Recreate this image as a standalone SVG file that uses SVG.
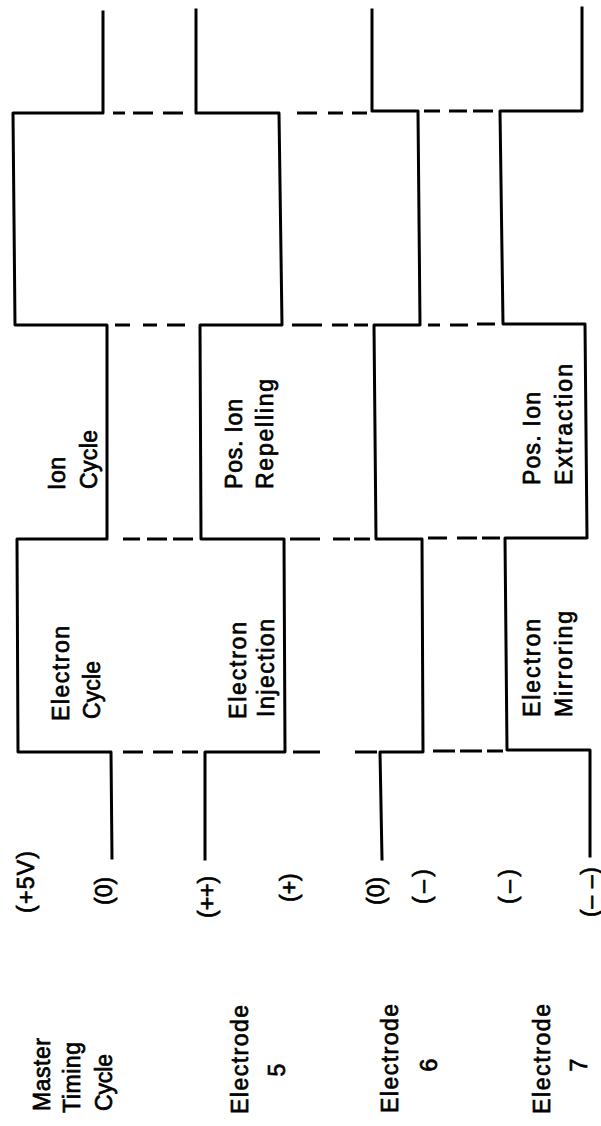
<svg xmlns="http://www.w3.org/2000/svg" width="601" height="1126" viewBox="0 0 601 1126">
<style>
.w{fill:none;stroke:#000;stroke-width:3;stroke-linejoin:round;stroke-linecap:square}
.d{fill:none;stroke:#000;stroke-width:3.2;stroke-linecap:butt}
text{font-family:"Liberation Sans",Arial,Helvetica,sans-serif;font-size:23px;fill:#000;stroke:#000;stroke-width:0.7}
.m{text-anchor:middle}
</style>
<rect width="601" height="1126" fill="#fff"/>
<g id="connectors">
<path class="d" d="M113,113H125M133,113H153M163,113H183M297,113H317M328,113H343M352,113H367M424,111H440M449,111H467M473,111H493"/>
<path class="d" d="M115,325H130M143,325H157M167,325H185M292,325H322M332,325H348M354,325H368M428,325H440M450,325H468M477,324H495"/>
<path class="d" d="M123,539H140M147,539H167M173,539H193M290,539H320M333,539H350M354,539H370M428,538H447M457,538H477M482,538H500"/>
<path class="d" d="M123,752H143M153,752H173M182,752H198M293,752H320M355,752H377M433,751H455M460,751H482M487,751H503"/>
</g>
<g id="master">
<polyline class="w" points="103,12 103,113 13,113 15,325 107,325 107,539 17,539 18,752 111,752 112,858"/>
<text transform="translate(50,1111) rotate(-90)" textLength="73">Master</text>
<text transform="translate(80,1113) rotate(-90)" textLength="71">Timing</text>
<text transform="translate(112,1111) rotate(-90)" textLength="57">Cycle</text>
<text transform="translate(34,913) rotate(-90)" textLength="62">(+5V)</text>
<text transform="translate(112,905) rotate(-90)">(0)</text>
</g>
<g id="electrode5">
<polyline class="w" points="196,10 196,113 279,113 282,325 200,325 201,539 284,539 285,752 205,752 205,859"/>
<text transform="translate(248,1114) rotate(-90)" textLength="109">Electrode</text>
<text class="m" transform="translate(285,1070) rotate(-90)">5</text>
<text transform="translate(215,918) rotate(-90)">(++)</text>
<text transform="translate(297,902) rotate(-90)">(+)</text>
</g>
<g id="electrode6">
<polyline class="w" points="372,10 372,111 418,111 420,325 374,325 376,539 422,539 423,752 380,752 382,859"/>
<text transform="translate(398,1113) rotate(-90)" textLength="109">Electrode</text>
<text class="m" transform="translate(437,1065) rotate(-90)">6</text>
<text transform="translate(384,905) rotate(-90)">(0)</text>
<text transform="translate(430,904) rotate(-90)" textLength="35">(–)</text>
</g>
<g id="electrode7">
<polyline class="w" points="582,8 582,111 500,111 503,324 585,324 587,538 505,538 507,750 590,750 590,856"/>
<text transform="translate(550,1114) rotate(-90)" textLength="110">Electrode</text>
<text class="m" transform="translate(587,1065) rotate(-90)">7</text>
<text transform="translate(516,904) rotate(-90)" textLength="35">(–)</text>
<text transform="translate(598,917) rotate(-90)" textLength="50">(– –)</text>
</g>
<g id="ion-cycle">
<text transform="translate(65,490) rotate(-90)" textLength="33">Ion</text>
<text transform="translate(97,489) rotate(-90)" textLength="59">Cycle</text>
</g>
<g id="pos-ion-repelling">
<text transform="translate(242,489) rotate(-90)" textLength="90">Pos. Ion</text>
<text transform="translate(273,489) rotate(-90)" textLength="110">Repelling</text>
</g>
<g id="pos-ion-extraction">
<text transform="translate(540,485) rotate(-90)" textLength="93">Pos. Ion</text>
<text transform="translate(572,485) rotate(-90)" textLength="121">Extraction</text>
</g>
<g id="electron-cycle">
<text transform="translate(69,721) rotate(-90)" textLength="95">Electron</text>
<text transform="translate(100,719) rotate(-90)" textLength="58">Cycle</text>
</g>
<g id="electron-injection">
<text transform="translate(246,719) rotate(-90)" textLength="97">Electron</text>
<text transform="translate(274,717) rotate(-90)" textLength="98">Injection</text>
</g>
<g id="electron-mirroring">
<text transform="translate(540,717) rotate(-90)" textLength="98">Electron</text>
<text transform="translate(572,717) rotate(-90)" textLength="106">Mirroring</text>
</g>
</svg>
